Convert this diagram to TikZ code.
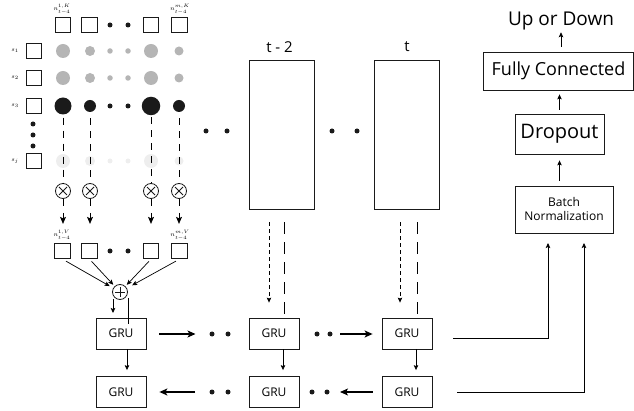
\documentclass[tikz,border=0pt]{standalone}
\usepackage{fontspec}
\setmainfont{Open Sans}
\usetikzlibrary{arrows.meta,calc}
\definecolor{lg}{HTML}{B5B5B5}
\definecolor{vlg}{HTML}{EEEEEE}
\definecolor{dk}{HTML}{1A1A1A}
\begin{document}
\begin{tikzpicture}[x=1pt,y=-1pt,
  sq/.style={draw=dk,line width=0.8pt,minimum size=15.5pt,inner sep=0},
  bx/.style={draw=dk,line width=0.8pt,inner sep=0},
  gru/.style={draw=dk,line width=0.8pt,minimum width=50pt,minimum height=31pt,inner sep=0,font=\fontsize{12}{12}\selectfont},
  bdot/.style={circle,fill=dk,minimum size=5pt,inner sep=0},
  cg/.style={circle,fill=lg,inner sep=0,minimum size=#1},
  cb/.style={circle,fill=dk,inner sep=0,minimum size=#1},
  cv/.style={circle,fill=vlg,inner sep=0,minimum size=#1},
  arr/.style={-{Stealth[length=7pt,width=6pt,inset=1.5pt]},line width=0.8pt},
  sarr/.style={-{Stealth[length=5pt,width=4.5pt,inset=1pt]},line width=0.7pt},
  harr/.style={-{Stealth[length=8pt,width=7pt,inset=2pt]},line width=1.4pt},
  ldash/.style={dash pattern=on 7pt off 6pt,line width=0.9pt},
  lldash/.style={dash pattern=on 12pt off 8pt,line width=0.9pt},
  sdash/.style={dash pattern=on 3.5pt off 3.5pt,line width=0.8pt},
  otimes/.style={circle,draw=dk,line width=0.8pt,minimum size=15pt,inner sep=0,
    path picture={\draw[line width=0.8pt] ([shift={(-4pt,-4pt)}]path picture bounding box.center) -- ([shift={(4pt,4pt)}]path picture bounding box.center);
                  \draw[line width=0.8pt] ([shift={(-4pt,4pt)}]path picture bounding box.center) -- ([shift={(4pt,-4pt)}]path picture bounding box.center);}},
  oplus/.style={circle,draw=dk,line width=0.8pt,minimum size=15pt,inner sep=0,
    path picture={\draw[line width=0.8pt] ([shift={(-5pt,0pt)}]path picture bounding box.center) -- ([shift={(5pt,0pt)}]path picture bounding box.center);
                  \draw[line width=0.8pt] ([shift={(0pt,-5pt)}]path picture bounding box.center) -- ([shift={(0pt,5pt)}]path picture bounding box.center);}},
  lab/.style={inner sep=0,font=\fontsize{6}{6}\selectfont}
]
\useasboundingbox (0,0) rectangle (634,411);

% key squares row
\node[sq] (k1) at (63,25) {};
\node[sq] (k2) at (89.5,25) {};
\node[bdot] (kd1) at (110,25) {};
\node[bdot] (kd2) at (128,25) {};
\node[sq] (k3) at (151,25) {};
\node[sq] (k4) at (179.5,25) {};
\node[lab] (kl1) at (62,9) {$n^{1,K}_{t-4}$};
\node[lab] (kl2) at (180,9) {$n^{m,K}_{t-4}$};

% state squares
\node[sq] (s1) at (34,51) {};
\node[sq] (s2) at (34,78) {};
\node[sq] (s3) at (34,106) {};
\node[sq] (sj) at (34,161) {};
\node[lab] (ls1) at (15,51) {$s_1$};
\node[lab] (ls2) at (15,78) {$s_2$};
\node[lab] (ls3) at (15,106) {$s_3$};
\node[lab] (lsj) at (15,161) {$s_j$};
\node[bdot] (vd1) at (33,124) {};
\node[bdot] (vd2) at (33,135) {};
\node[bdot] (vd3) at (33,146) {};

% circles row 1
\node[cg=14pt] (c1a) at (63,51) {};
\node[cg=10pt] (c1b) at (90,51) {};
\node[cg=5.5pt] (c1c) at (110,51) {};
\node[cg=5.5pt] (c1d) at (128,51) {};
\node[cg=14pt] (c1e) at (151,51) {};
\node[cg=9pt] (c1f) at (179,51) {};
% row 2
\node[cg=14pt] (c2a) at (63,78) {};
\node[cg=10pt] (c2b) at (90,78) {};
\node[cg=5.5pt] (c2c) at (110,78) {};
\node[cg=5.5pt] (c2d) at (128,78) {};
\node[cg=14pt] (c2e) at (151,78) {};
\node[cg=9pt] (c2f) at (179,78) {};
% row 3
\node[cb=17pt] (c3a) at (63,106) {};
\node[cb=12pt] (c3b) at (90,106) {};
\node[cb=5pt] (c3c) at (110,106) {};
\node[cb=5pt] (c3d) at (128,106) {};
\node[cb=18.5pt] (c3e) at (151,106) {};
\node[cb=12pt] (c3f) at (179,106) {};
% row j
\node[cv=14pt] (cja) at (63,161) {};
\node[cv=10pt] (cjb) at (90,161) {};
\node[cv=5pt] (cjc) at (110,161) {};
\node[cv=5pt] (cjd) at (128,161) {};
\node[cv=14pt] (cje) at (151,161) {};
\node[cv=9pt] (cjf) at (179,161) {};

% otimes
\node[otimes] (oa) at (63,191) {};
\node[otimes] (ob) at (90,191) {};
\node[otimes] (oc) at (151,191) {};
\node[otimes] (od) at (179,191) {};

\draw[ldash,shorten <=3pt] (c3a.south) -- (oa.north);
\draw[ldash,shorten <=6pt] (c3b.south) -- (ob.north);
\draw[ldash,shorten <=2pt] (c3e.south) -- (oc.north);
\draw[ldash,shorten <=6pt] (c3f.south) -- (od.north);

% value squares
\node[sq] (v1) at (62.5,251) {};
\node[sq] (v2) at (89.5,251) {};
\node[bdot] (vdd1) at (110,251) {};
\node[bdot] (vdd2) at (128,251) {};
\node[sq] (v3) at (151,251) {};
\node[sq] (v4) at (179.5,251) {};
\node[lab] (vl1) at (62,235) {$n^{1,V}_{t-4}$};
\node[lab] (vl2) at (180,235) {$n^{m,V}_{t-4}$};

\draw[arr,dash pattern=on 7pt off 7pt,shorten >=19pt] (oa.south) -- (oa.south |- v1.north);
\draw[arr,dash pattern=on 7pt off 7pt,shorten >=19pt] (ob.south) -- (ob.south |- v2.north);
\draw[arr,dash pattern=on 7pt off 7pt,shorten >=19pt] (oc.south) -- (oc.south |- v3.north);
\draw[arr,dash pattern=on 7pt off 7pt,shorten >=19pt] (od.south) -- (od.south |- v4.north);

% oplus
\node[oplus] (op) at (120,292) {};
\draw[sarr,shorten <=4pt,shorten >=4pt] (v1.south) -- (op);
\draw[sarr,shorten <=3pt,shorten >=2pt] (v2.south) -- (op);
\draw[sarr,shorten <=3pt,shorten >=2pt] (v3.south) -- (op);
\draw[sarr,shorten <=4pt,shorten >=6pt] (v4.south) -- (op);

% big boxes
\node[bx,minimum width=65pt,minimum height=149pt] (B1) at (281.5,134.5) {};
\node[bx,minimum width=65pt,minimum height=149pt] (B2) at (406.5,134.5) {};
\node[inner sep=0,font=\fontsize{15}{15}\selectfont] (tl1) at (279.5,47) {t - 2};
\node[inner sep=0,font=\fontsize{15}{15}\selectfont] (tl2) at (407,47) {t};
\node[bdot] (md1) at (206,131) {};
\node[bdot] (md2) at (227,131) {};
\node[bdot] (md3) at (332,131) {};
\node[bdot] (md4) at (357,131) {};

% GRUs
\node[gru] (g1) at (121,333.5) {GRU};
\node[gru] (g2) at (274,333.5) {GRU};
\node[gru] (g3) at (407,333.5) {GRU};
\node[gru] (g4) at (121,392) {GRU};
\node[gru] (g5) at (274,392) {GRU};
\node[gru] (g6) at (407,392) {GRU};

% oplus to GRU1
\draw[sarr] ([shift={(-7,7)}]op.center) -- ([shift={(-7,21)}]op.center);
\draw[line width=0.8pt] ([shift={(8,6)}]op.center) -- ([shift={(8,6)}]op.center |- g1.north);

% dashed into GRU2 and GRU3
\draw[sarr,sdash,shorten <=13pt,shorten >=15pt] ([xshift=-12.5pt]B1.south) -- ([xshift=-12.5pt]B1.south |- g2.north);
\draw[lldash,shorten <=13pt] ([xshift=2.5pt]B1.south) -- ([xshift=2.5pt]B1.south |- g2.north);
\draw[sarr,sdash,shorten <=13pt,shorten >=15pt] ([xshift=-6.5pt]B2.south) -- ([xshift=-6.5pt]B2.south |- g3.north);
\draw[lldash,shorten <=13pt] ([xshift=10.5pt]B2.south) -- ([xshift=10.5pt]B2.south |- g3.north);

% vertical GRU arrows
\draw[sarr,shorten >=6pt] ([xshift=6pt]g1.south) -- ([xshift=6pt]g1.south |- g4.north);
\draw[sarr,shorten >=6pt] ([xshift=9pt]g2.south) -- ([xshift=9pt]g2.south |- g5.north);
\draw[sarr,shorten >=6pt] ([xshift=9pt]g3.south) -- ([xshift=9pt]g3.south |- g6.north);

% top row dots / arrows
\node[bdot] (t1) at (212,334) {};
\node[bdot] (t2) at (228,334) {};
\node[bdot] (t3) at (317,334) {};
\node[bdot] (t4) at (330,334) {};
\draw[harr,shorten <=13pt,shorten >=16.5pt] (g1.east |- t1) -- (t1.center);
\draw[harr,shorten <=10pt,shorten >=9pt] (t4.center) -- (g3.west |- t4);

% bottom row dots / arrows
\node[bdot] (b1) at (212,392) {};
\node[bdot] (b2) at (228,392) {};
\node[bdot] (b3) at (312,392) {};
\node[bdot] (b4) at (327,392) {};
\draw[harr,shorten <=17pt,shorten >=13pt] (b1.center) -- (g4.east);
\draw[harr,shorten <=9pt,shorten >=13pt] (g6.west) -- (b4.center);

% right column
\node[bx,minimum width=98pt,minimum height=47pt,align=center,font=\fontsize{12}{14}\selectfont] (bn) at (564,209.5) {Batch\\Normalization};
\node[bx,minimum width=89pt,minimum height=40pt,font=\fontsize{20}{20}\selectfont] (dp) at (559.5,134) {Dropout};
\node[bx,minimum width=150pt,minimum height=38pt,font=\fontsize{18}{18}\selectfont] (fc) at (558.5,71) {Fully Connected};
\node[inner sep=0,font=\fontsize{19}{19}\selectfont] (ud) at (561,21) {Up or Down};

\draw[sarr,shorten <=5pt,shorten >=6pt] (dp.south |- bn.north) -- (dp.south);
\draw[sarr,shorten <=4pt,shorten >=4pt] (dp.north) -- (dp.north |- fc.south);
\draw[sarr,shorten <=5pt,shorten >=2pt] (fc.north -| ud.south) -- (ud.south);

\coordinate (e1) at (548,243);
\coordinate (e2) at (584,243);
\draw[sarr,shorten <=21pt] ([yshift=-4.5pt]g3.east) -| (e1);
\draw[sarr,shorten <=25pt] (g6.east) -| (e2);
\end{tikzpicture}
\end{document}
